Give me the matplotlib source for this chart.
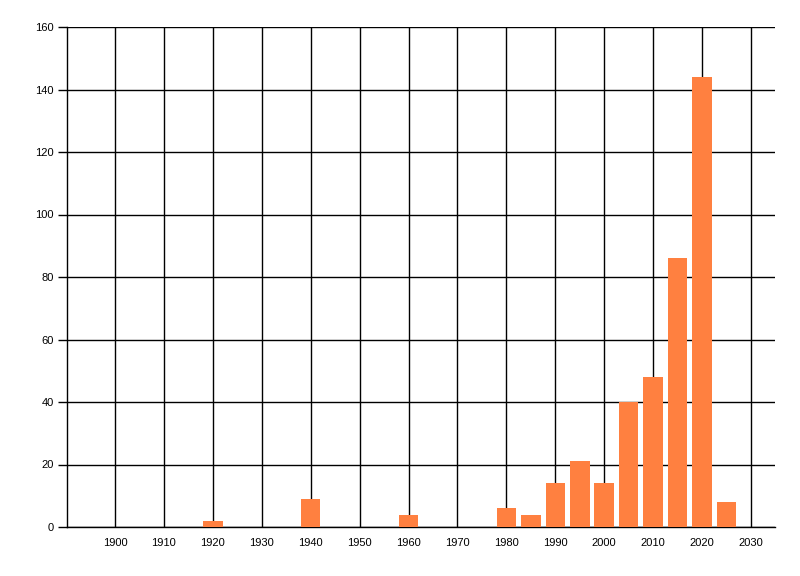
import matplotlib
matplotlib.use("Agg")
import matplotlib.pyplot as plt

# values
years = [1920, 1940, 1960, 1980, 1985, 1990, 1995, 2000, 2005, 2010, 2015, 2020, 2025]
counts = [2, 9, 4, 6, 4, 14, 21, 14, 40, 48, 86, 144, 8]
x_ticks = list(range(1900, 2031, 10))
y_ticks = list(range(0, 161, 20))

plt.rcParams['font.family'] = ['Liberation Sans', 'DejaVu Sans']

fig = plt.figure(figsize=(8, 5.76), dpi=100)
ax = fig.add_axes([67 / 800, 1 - 527 / 576, (775 - 67) / 800, (527 - 27) / 576])

ax.bar(years, counts, width=4, color='#FF8040', zorder=3)

ax.set_xlim(1890.2, 2034.9)
ax.set_ylim(0, 160)
ax.set_xticks(x_ticks)
ax.set_yticks(y_ticks)
ax.grid(True, color='black', linewidth=1, zorder=0)

for side in ['top', 'right']:
    ax.spines[side].set_visible(False)
ax.spines['left'].set_linewidth(1)
ax.spines['bottom'].set_linewidth(1)

ax.tick_params(axis='x', length=0, pad=8, labelsize=8)
ax.tick_params(axis='y', length=6.5, width=1, pad=3, labelsize=8)

fig.savefig('out.png', dpi=100)
